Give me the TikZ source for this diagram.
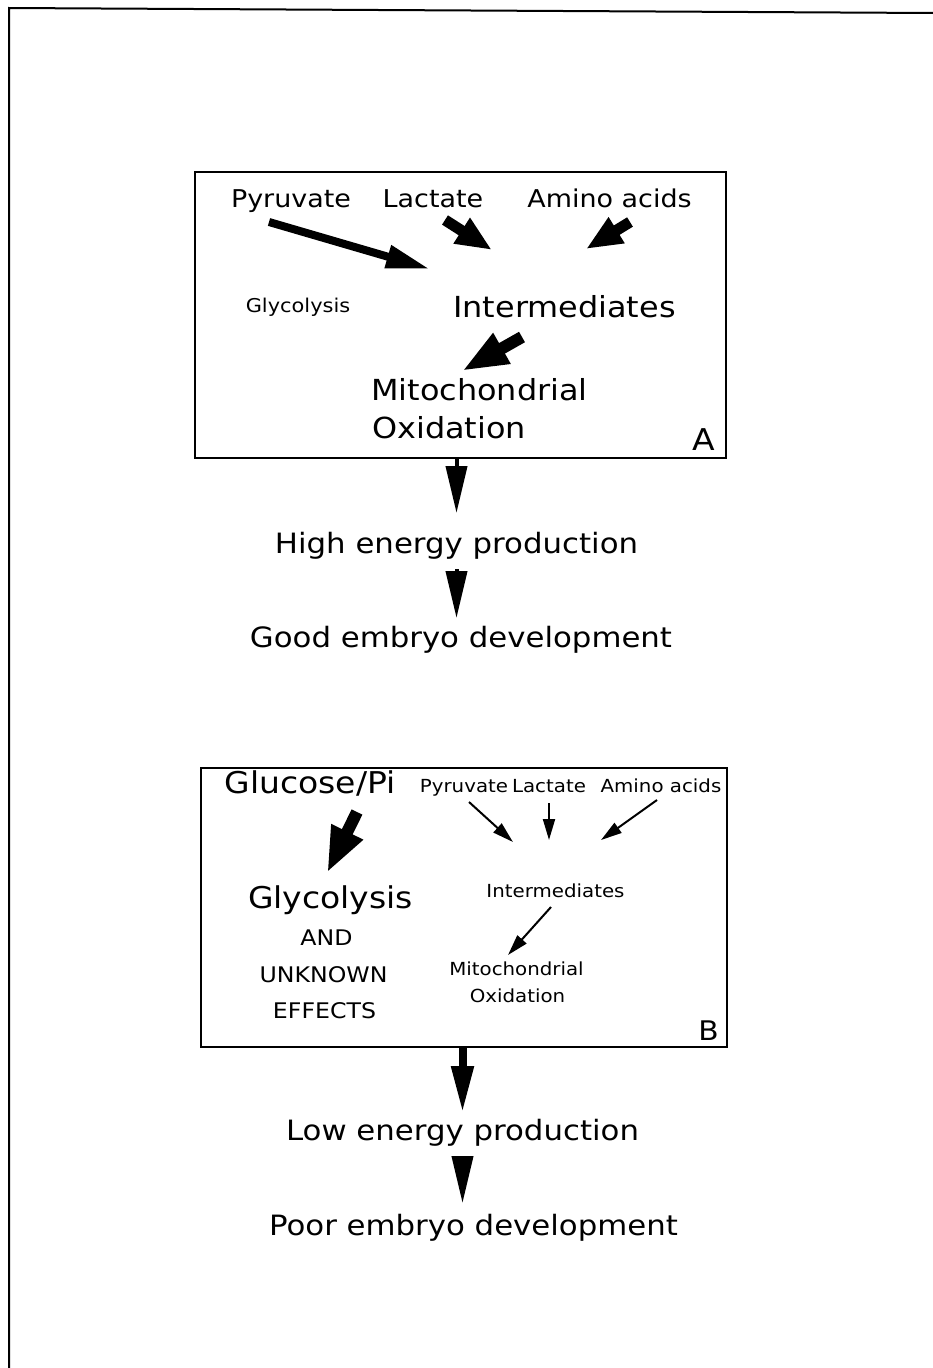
\documentclass[tikz,border=0pt]{standalone}
\usepackage{fontspec}
\setmainfont{DejaVu Sans}[FakeStretch=1.1]
\usetikzlibrary{arrows.meta, positioning, calc}

\begin{document}
\begin{tikzpicture}[x=1pt, y=-1pt,
  txt/.style={inner sep=0pt, anchor=base},
  steptxt/.style={txt, font=\fontsize{28}{34}\selectfont},
  srctxt/.style={txt, font=\fontsize{24.5}{29}\selectfont},
  midtxt/.style={txt, font=\fontsize{29}{34}\selectfont},
  bigtxt/.style={txt, font=\fontsize{30}{36}\selectfont},
  smalltxt/.style={txt, font=\fontsize{18}{22}\selectfont},
  capstxt/.style={txt, font=\fontsize{21.5}{26}\selectfont},
  lettertxt/.style={txt, font=\fontsize{30}{36}\selectfont},
  panel/.style={draw, line width=2pt, inner sep=0pt},
  flowarrow/.style={line width=4pt, -{Triangle[length=47pt, width=21pt]}},
  fatarrow/.style={line width=8pt, -{Triangle[length=44pt, width=22pt]}},
  stubarrow/.style={line width=11pt, -{Triangle[length=36pt, width=28pt]}},
  bigarrow/.style={line width=12pt, -{Triangle[length=46pt, width=32pt]}},
  thinarrow/.style={line width=2pt, -{Triangle[length=21pt, width=12pt]}}
]
\useasboundingbox (0,0) rectangle (933,1368);
\fill[white] (0,0) rectangle (933,1368);
% page frame
\draw[line width=2pt] (9,1368) -- (9,8) -- (933,13);

% panel A
\node[panel, minimum width=531pt, minimum height=286pt] (boxA) at (460.5,315) {};
\node[srctxt] (pyrA) at (291,207) {Pyruvate};
\node[srctxt] (lacA) at (433,207) {Lactate};
\node[srctxt] (amiA) at (609.5,207) {Amino acids};
\node[txt, font=\fontsize{19}{23}\selectfont] (glyA) at (298,312) {Glycolysis};
\node[midtxt] (intA) at (564.5,317) {Intermediates};
\node[midtxt, anchor=base west] (mitoA) at (371,400) {Mitochondrial};
\node[midtxt, anchor=base west] (oxiA) at (372,438) {Oxidation};
\node[lettertxt] (tagA) at (704,450) {A};

\draw[fatarrow] ($(pyrA.base)+(-22,15)$) -- ($(intA.base)+(-134.5,-48)$);
\draw[stubarrow] ($(lacA.base)+(12,13)$) -- ($(intA.base)+(-72.5,-67)$);
\draw[stubarrow] ($(amiA.base)+(20.5,15)$) -- ($(intA.base)+(21.5,-68)$);
\draw[bigarrow] ($(intA.base)+(-42.5,20)$) -- ($(mitoA.base)+(-17.5,-29)$);

% outcome A
\node[steptxt] (highA) at (456.5,553) {High energy production};
\node[steptxt] (goodA) at (461,647) {Good embryo development};
\draw[flowarrow] (highA.base |- boxA.south) -- ($(highA.base)+(0,-40)$);
\draw[flowarrow] ($(highA.base)+(0,16)$) -- ($(highA.base |- goodA.base)+(0,-29)$);

% panel B
\node[panel, minimum width=526.5pt, minimum height=279pt] (boxB) at (463.75,907.5) {};
\node[bigtxt] (gluB) at (310,793) {Glucose/Pi};
\node[smalltxt] (pyrB) at (464,792) {Pyruvate};
\node[smalltxt] (lacB) at (549,792) {Lactate};
\node[smalltxt] (amiB) at (661,792) {Amino acids};
\node[bigtxt] (glyB) at (330.5,908) {Glycolysis};
\node[capstxt] (andB) at (326.5,945) {AND};
\node[capstxt] (unkB) at (323.5,982) {UNKNOWN};
\node[capstxt] (effB) at (324.5,1018) {EFFECTS};
\node[smalltxt] (intB) at (555.5,897) {Intermediates};
\node[smalltxt] (mitoB) at (516.5,975) {Mitochondrial};
\node[smalltxt] (oxiB) at (517.5,1002) {Oxidation};
\node[lettertxt, font=\fontsize{27}{32}\selectfont] (tagB) at (708.5,1040) {B};

\draw[bigarrow] ($(gluB.base)+(47,19)$) -- ($(glyB.base)+(-3.5,-35)$);
\draw[thinarrow] ($(pyrB.base)+(5,10)$) -- ($(intB.base)+(-42.5,-55)$);
\draw[thinarrow] ($(lacB.base)+(0,11)$) -- ($(intB.base)+(-6.5,-57)$);
\draw[thinarrow] ($(amiB.base)+(-4,8)$) -- ($(intB.base)+(45.5,-57)$);
\draw[thinarrow] ($(intB.base)+(-4.5,10)$) -- ($(mitoB.base)+(-8.5,-20)$);

% outcome B
\node[steptxt] (lowB) at (462.5,1140) {Low energy production};
\node[steptxt] (poorB) at (473.5,1235) {Poor embryo development};
\draw[flowarrow, line width=8pt] (lowB.base |- boxB.south) -- ($(lowB.base)+(0,-27)$);
\draw[flowarrow] ($(lowB.base)+(0,17)$) -- ($(lowB.base |- poorB.base)+(0,-32)$);
\end{tikzpicture}
\end{document}
